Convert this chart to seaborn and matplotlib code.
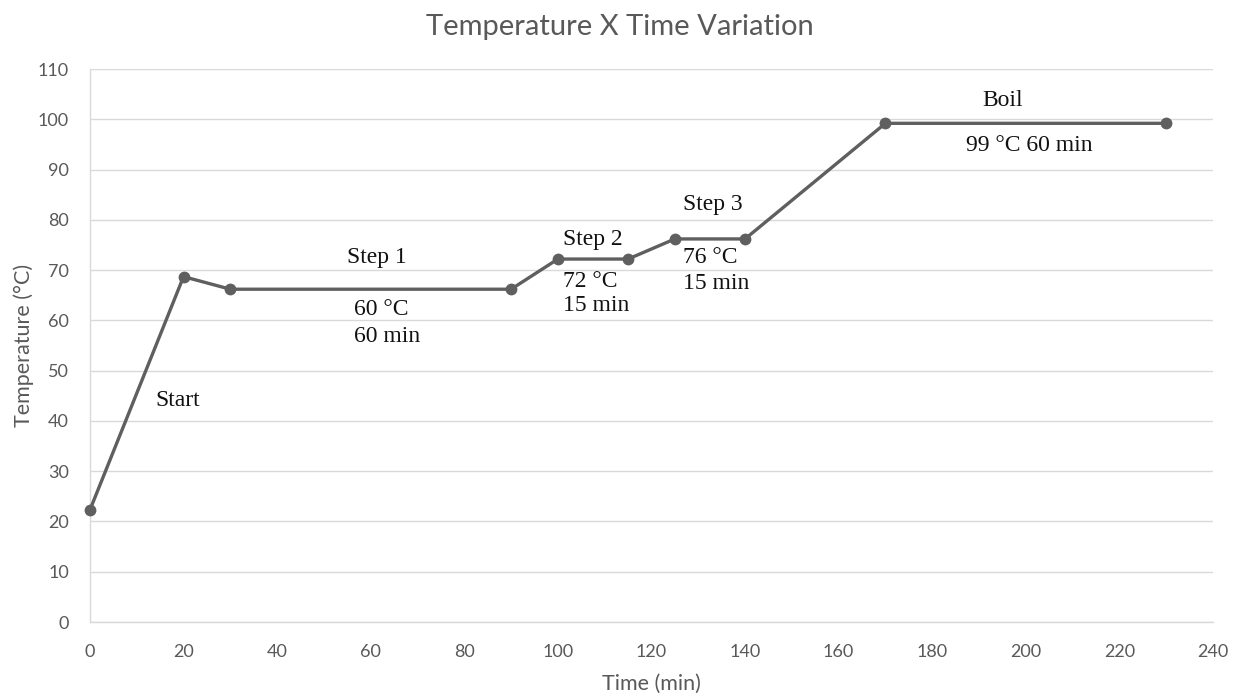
import matplotlib
matplotlib.use("Agg")
import matplotlib.pyplot as plt
import seaborn as sns
import pandas as pd

# data
time_min = [0, 20, 30, 90, 100, 115, 125, 140, 170, 230]
temp_c = [22.3, 68.7, 66.2, 66.2, 72.2, 72.2, 76.2, 76.2, 99.2, 99.2]

# annotation text and where it sits (data coords)
labels_txt = ["Start", "Step 1", "60 °C", "60 min", "Step 2", "72 °C", "15 min",
              "Step 3", "76 °C", "15 min", "Boil", "99 °C 60 min"]
labels_x = [18.8, 61.3, 56.4, 56.4, 101.1, 101.1, 101.1,
            126.7, 126.7, 126.7, 195.1, 200.7]
labels_y = [44.0, 72.6, 62.1, 56.7, 76.0, 67.8, 62.9,
            83.0, 72.6, 67.4, 103.8, 94.7]
labels_ha = ["center", "center", "left", "left", "left", "left", "left",
             "left", "left", "left", "center", "center"]

df = pd.DataFrame({"Time (min)": time_min, "Temperature (°C)": temp_c})

sns.set_style("white")
plt.rcParams["font.family"] = ["Lato", "DejaVu Sans"]

fig = plt.figure(figsize=(12.39, 6.95), dpi=100)
ax = fig.add_axes([0.0726, 0.105, 0.9064, 0.7957])

sns.lineplot(data=df, x="Time (min)", y="Temperature (°C)", ax=ax, sort=False,
             color="#5f5f5f", linewidth=2.4, marker="o", markersize=8.5,
             markeredgewidth=0, clip_on=False, zorder=5)

for x, y, t, ha in zip(labels_x, labels_y, labels_txt, labels_ha):
    ax.text(x, y, t, ha=ha, va="center", fontsize=17, color="#111111",
            family=["Liberation Serif", "DejaVu Serif"])

ax.set_xlim(0, 240)
ax.set_ylim(0, 110)
ax.set_xticks(range(0, 241, 20))
ax.set_yticks(range(0, 111, 10))
ax.yaxis.grid(True, color="#d9d9d9", linewidth=1)
ax.xaxis.grid(False)
for s in ["top", "right"]:
    ax.spines[s].set_visible(False)
for s in ["left", "bottom"]:
    ax.spines[s].set_color("#d9d9d9")
    ax.spines[s].set_linewidth(1)
ax.tick_params(axis="both", length=0, labelsize=13, labelcolor="#595959")
ax.tick_params(axis="x", pad=16)
ax.tick_params(axis="y", pad=15)

ax.set_xlabel("Time (min)", fontsize=15.5, color="#595959", labelpad=10)
ax.set_ylabel("Temperature (°C)", fontsize=15.5, color="#595959", labelpad=3)
fig.suptitle("Temperature X Time Variation", fontsize=21, color="#595959", y=0.98)

fig.savefig("out.png", dpi=100)
